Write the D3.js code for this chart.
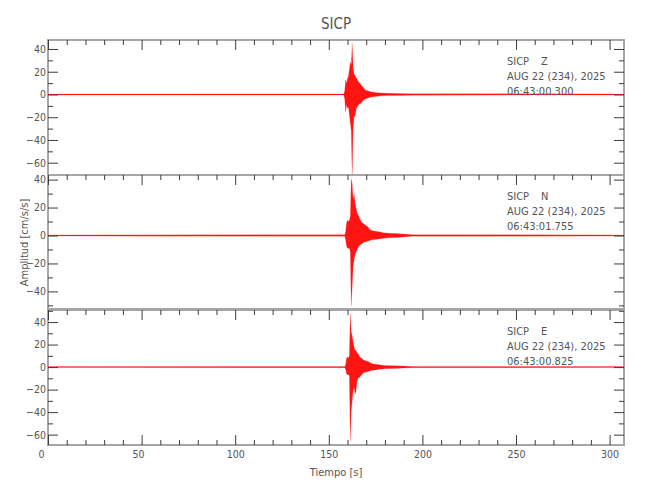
<!DOCTYPE html>
<html><head><meta charset="utf-8">
<script src="https://cdn.jsdelivr.net/npm/d3@7"></script>
<style>
html,body{margin:0;padding:0;background:#fff;}
text{font-family:"DejaVu Sans Condensed","DejaVu Sans",sans-serif;font-stretch:condensed;fill:#555;}
</style></head><body><svg id="c" width="650" height="500"></svg>
<script>
const title = "SICP";
const station = "SICP";
const components = ["Z", "N", "E"];
const dateLabel = "AUG 22 (234), 2025";
const startTimes = ["06:43:00.300", "06:43:01.755", "06:43:00.825"];
const xLabel = "Tiempo [s]";
const yLabel = "Amplitud [cm/s/s]";
const xMajorTicks = [0, 50, 100, 150, 200, 250, 300];
const xDomain = [0, 307.7];
const yDomains = [[-70.8, 47.9], [-52.6, 43.3], [-69.2, 50.7]];

// Z component: time (s), upper and lower envelope (cm/s/s)
const zTime = [0, 158.0, 158.5, 159.0, 159.5, 160.0, 160.5, 161.0, 161.5, 162.0, 162.5, 163.0, 163.5, 164.0, 164.5, 165.0, 165.5, 166.0, 166.5, 167.0, 167.5, 168.0, 168.5, 169.0, 169.5, 170.0, 171.0, 172.0, 173.0, 174.0, 176.0, 178.0, 182.0, 188.0, 195.0, 307.7];
const zHigh = [0.45, 0.5, 3, 13, 10, 14, 16, 22, 28.5, 26, 44.7, 24, 18, 17, 15, 14, 12, 11, 10, 9, 8, 7, 6, 5, 4, 3.5, 3.2, 2.5, 2.2, 2, 1.6, 1.3, 1.0, 0.8, 0.6, 0.45];
const zLow = [-0.45, -0.5, -4, -15.6, -9, -12, -11, -18, -25, -31.7, -72, -30, -20, -19, -14, -11, -10, -9, -8, -8, -7, -6, -5, -4.5, -4, -3.8, -3, -2.5, -2, -2, -1.6, -1.2, -1.0, -0.8, -0.6, -0.45];

// N component
const nTime = [0, 158.5, 159.0, 159.5, 160.0, 160.5, 161.0, 161.5, 162.0, 162.5, 163.0, 163.5, 164.0, 164.5, 165.0, 165.5, 166.0, 166.5, 167.0, 167.5, 168.0, 168.5, 169.0, 170.0, 171.0, 172.0, 173.0, 175.0, 177.0, 179.0, 182.0, 186.0, 190.0, 195.0, 307.7];
const nHigh = [0.4, 0.5, 3, 9, 11, 10, 11, 14, 40.7, 37, 26, 30, 24, 20, 17, 15, 14, 12, 11, 9.5, 9, 8.6, 8, 7, 6, 4, 3.5, 3, 2.6, 2, 1.6, 1.4, 1.0, 0.6, 0.4];
const nLow = [-0.4, -0.5, -3, -8, -9, -9.3, -9, -12, -50.5, -36.7, -22, -17.6, -14, -12, -10.5, -9, -8, -7, -6.5, -6, -5.5, -5, -4.6, -4.5, -4, -3.5, -3, -2.8, -2.5, -2, -1.6, -1.4, -1.0, -0.6, -0.4];

// E component
const eTime = [0, 158.5, 159.0, 159.5, 160.0, 160.5, 161.0, 161.5, 162.0, 162.5, 163.0, 163.5, 164.0, 164.5, 165.0, 165.5, 166.0, 166.5, 167.0, 167.5, 168.0, 169.0, 170.0, 171.0, 172.0, 173.0, 175.0, 177.0, 180.0, 185.0, 190.0, 195.0, 307.7];
const eHigh = [0.45, 0.5, 2, 8, 9, 8, 10, 47.5, 31, 28, 22, 18, 15, 14.8, 13, 12, 11, 9, 8.5, 8, 7, 6, 5.5, 5, 4, 3, 2.5, 2, 1.5, 1.2, 0.9, 0.6, 0.45];
const eLow = [-0.45, -0.5, -2, -6, -7, -6.5, -8, -66, -38.5, -30, -20.7, -18, -23.7, -22, -14, -10.4, -9.5, -9, -8, -7, -6, -4.8, -4.4, -4, -3.5, -2.8, -2.5, -2, -1.4, -1.2, -0.9, -0.6, -0.45];

const traces = [
  {t: zTime, h: zHigh, l: zLow},
  {t: nTime, h: nHigh, l: nLow},
  {t: eTime, h: eHigh, l: eLow}
];

const svg = d3.select("#c");
const L = 48, R = 624;
const tops = [40, 175, 310], bottoms = [175, 309, 445];
const x = d3.scaleLinear().domain(xDomain).range([L, R]);
const xMinor = d3.range(10, xDomain[1], 10).filter(v => v % 50 !== 0);
const fmt = d3.format("d");
const axisColor = "#a6a6a6", tickColor = "#3c3c3c";

function styleAxis(g) {
  g.select(".domain").remove();
  g.selectAll("line").attr("stroke", tickColor).attr("stroke-width", 1);
  g.attr("font-size", 10.5);
}

traces.forEach((tr, i) => {
  const top = tops[i], bot = bottoms[i];
  const y = d3.scaleLinear().domain(yDomains[i]).range([bot, top]);
  const g = svg.append("g");

  // border
  g.append("rect").attr("x", L).attr("y", top).attr("width", R - L).attr("height", bot - top)
    .attr("fill", "none").attr("stroke", axisColor).attr("stroke-width", 2);

  // trace
  const pts = tr.t.map((t, j) => ({t: t, h: tr.h[j], l: tr.l[j]}));
  const area = d3.area().x(d => x(d.t)).y0(d => y(d.l)).y1(d => y(d.h));
  g.append("path").datum(pts).attr("d", area)
    .attr("fill", "#ff0000").attr("fill-opacity", 0.92)
    .attr("stroke", "#ff3030").attr("stroke-width", 0.4).attr("stroke-opacity", 0.5);

  const yd = yDomains[i];
  const yMajor = d3.range(Math.ceil(yd[0] / 20) * 20, yd[1] + 1e-6, 20);
  const yMinor = d3.range(Math.ceil(yd[0] / 10) * 10, yd[1] + 1e-6, 10).filter(v => v % 20 !== 0);

  // left axis
  g.append("g").attr("transform", `translate(${L},0)`)
    .call(d3.axisLeft(y).tickValues(yMajor).tickSize(-10).tickPadding(2).tickFormat(fmt)).call(styleAxis);
  g.append("g").attr("transform", `translate(${L},0)`)
    .call(d3.axisLeft(y).tickValues(yMinor).tickSize(-5).tickFormat("")).call(styleAxis);
  // right axis
  g.append("g").attr("transform", `translate(${R},0)`)
    .call(d3.axisRight(y).tickValues(yMajor).tickSize(-10).tickFormat("")).call(styleAxis);
  g.append("g").attr("transform", `translate(${R},0)`)
    .call(d3.axisRight(y).tickValues(yMinor).tickSize(-5).tickFormat("")).call(styleAxis);
  // top axis
  g.append("g").attr("transform", `translate(0,${top})`)
    .call(d3.axisTop(x).tickValues(xMajorTicks).tickSize(-10).tickFormat("")).call(styleAxis);
  g.append("g").attr("transform", `translate(0,${top})`)
    .call(d3.axisTop(x).tickValues(xMinor).tickSize(-5).tickFormat("")).call(styleAxis);

  if (i === 2) {
    const bx = g.append("g").attr("transform", `translate(0,${bot})`)
      .call(d3.axisBottom(x).tickValues(xMajorTicks).tickSize(-10).tickPadding(5.5).tickFormat(fmt)).call(styleAxis);
    bx.selectAll("text").attr("dx", d => -3.5 * (3 - String(d).length));
    g.append("g").attr("transform", `translate(0,${bot})`)
      .call(d3.axisBottom(x).tickValues(xMinor).tickSize(-5).tickFormat("")).call(styleAxis);
  }

  // annotation
  const ann = g.append("g").attr("font-size", 11);
  ann.append("text").attr("x", 507).attr("y", top + 25).text(station);
  ann.append("text").attr("x", 541).attr("y", top + 25).text(components[i]);
  ann.append("text").attr("x", 507).attr("y", top + 40).text(dateLabel);
  ann.append("text").attr("x", 507).attr("y", top + 54.5).text(startTimes[i]);
});

svg.append("text").attr("x", 336).attr("y", 29).attr("text-anchor", "middle").attr("font-size", 15).text(title);
svg.append("text").attr("x", 336).attr("y", 476).attr("text-anchor", "middle").attr("font-size", 11).text(xLabel);
svg.append("text").attr("transform", "translate(28,242.5) rotate(-90)").attr("text-anchor", "middle").attr("font-size", 11).text(yLabel);
</script></body></html>
